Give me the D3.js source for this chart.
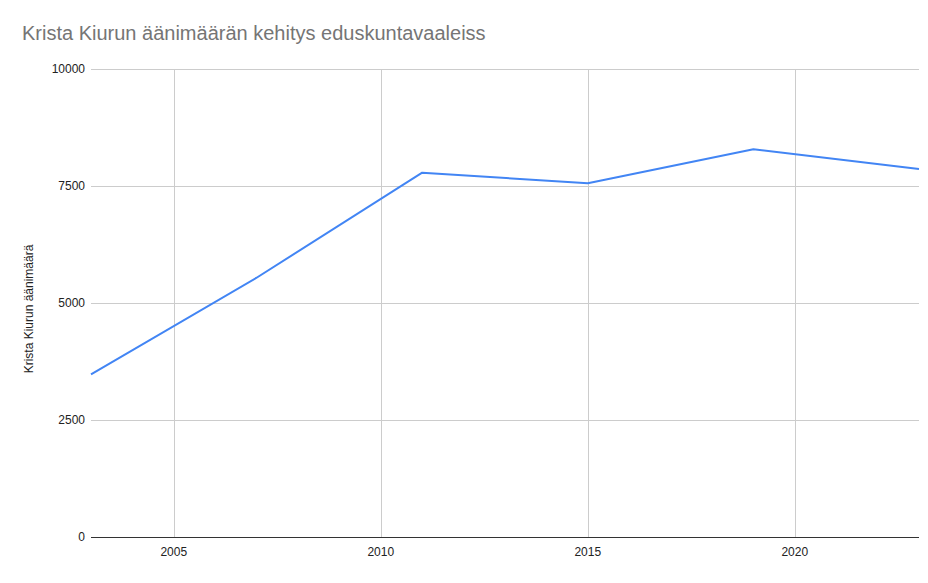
<!DOCTYPE html>
<html><head><meta charset="utf-8">
<script src="https://cdn.jsdelivr.net/npm/d3@7"></script>
<style>body{margin:0;background:#fff}svg{display:block;font-family:"Liberation Sans",Arial,sans-serif}</style>
</head><body>
<script>
const years = [2003, 2007, 2011, 2015, 2019, 2023];
const votes = [3476, 5540, 7784, 7560, 8286, 7862];
const xTicks = [2005, 2010, 2015, 2020];
const yTicks = [0, 2500, 5000, 7500, 10000];
const title = "Krista Kiurun äänimäärän kehitys eduskuntavaaleiss";
const yTitle = "Krista Kiurun äänimäärä";

const W = 928, H = 583;
const m = {left: 91, right: 9, top: 69, bottom: 46};
const svg = d3.select("body").append("svg").attr("width", W).attr("height", H);
svg.append("rect").attr("width", W).attr("height", H).attr("fill", "#fff");

const x = d3.scaleLinear().domain([2003, 2023]).range([m.left, W - m.right]);
const y = d3.scaleLinear().domain([0, 10000]).range([H - m.bottom, m.top]);

// horizontal gridlines
svg.append("g").selectAll("line").data(yTicks.filter(d => d > 0)).join("line")
  .attr("x1", m.left).attr("x2", W - m.right)
  .attr("y1", d => y(d) + 0.5).attr("y2", d => y(d) + 0.5)
  .attr("stroke", "#cccccc").attr("stroke-width", 1);
// vertical gridlines
svg.append("g").selectAll("line").data(xTicks).join("line")
  .attr("x1", d => Math.round(x(d)) + 0.5).attr("x2", d => Math.round(x(d)) + 0.5)
  .attr("y1", m.top).attr("y2", H - m.bottom)
  .attr("stroke", "#cccccc").attr("stroke-width", 1);

// y labels
svg.append("g").selectAll("text").data(yTicks).join("text")
  .attr("x", m.left - 6).attr("y", d => y(d) + 4)
  .attr("text-anchor", "end").attr("font-size", 12).attr("fill", "#222")
  .text(d => d);
// x labels
svg.append("g").selectAll("text").data(xTicks).join("text")
  .attr("x", d => x(d)).attr("y", H - m.bottom + 19)
  .attr("text-anchor", "middle").attr("font-size", 12).attr("fill", "#222")
  .text(d => d);

// baseline
svg.append("line").attr("x1", m.left).attr("x2", W - m.right)
  .attr("y1", y(0) + 0.5).attr("y2", y(0) + 0.5)
  .attr("stroke", "#333").attr("stroke-width", 1);

// line
const line = d3.line().x((d, i) => x(years[i])).y(d => y(d));
svg.append("path").datum(votes).attr("d", line)
  .attr("fill", "none").attr("stroke", "#4285f4").attr("stroke-width", 2)
  .attr("stroke-linejoin", "round");

// title
svg.append("text").attr("x", 22).attr("y", 40).attr("font-size", 20)
  .attr("fill", "#757575").text(title);

// y title
svg.append("text").attr("transform", "translate(33,309) rotate(-90)")
  .attr("text-anchor", "middle").attr("font-size", 12).attr("fill", "#222")
  .text(yTitle);
</script>
</body></html>
